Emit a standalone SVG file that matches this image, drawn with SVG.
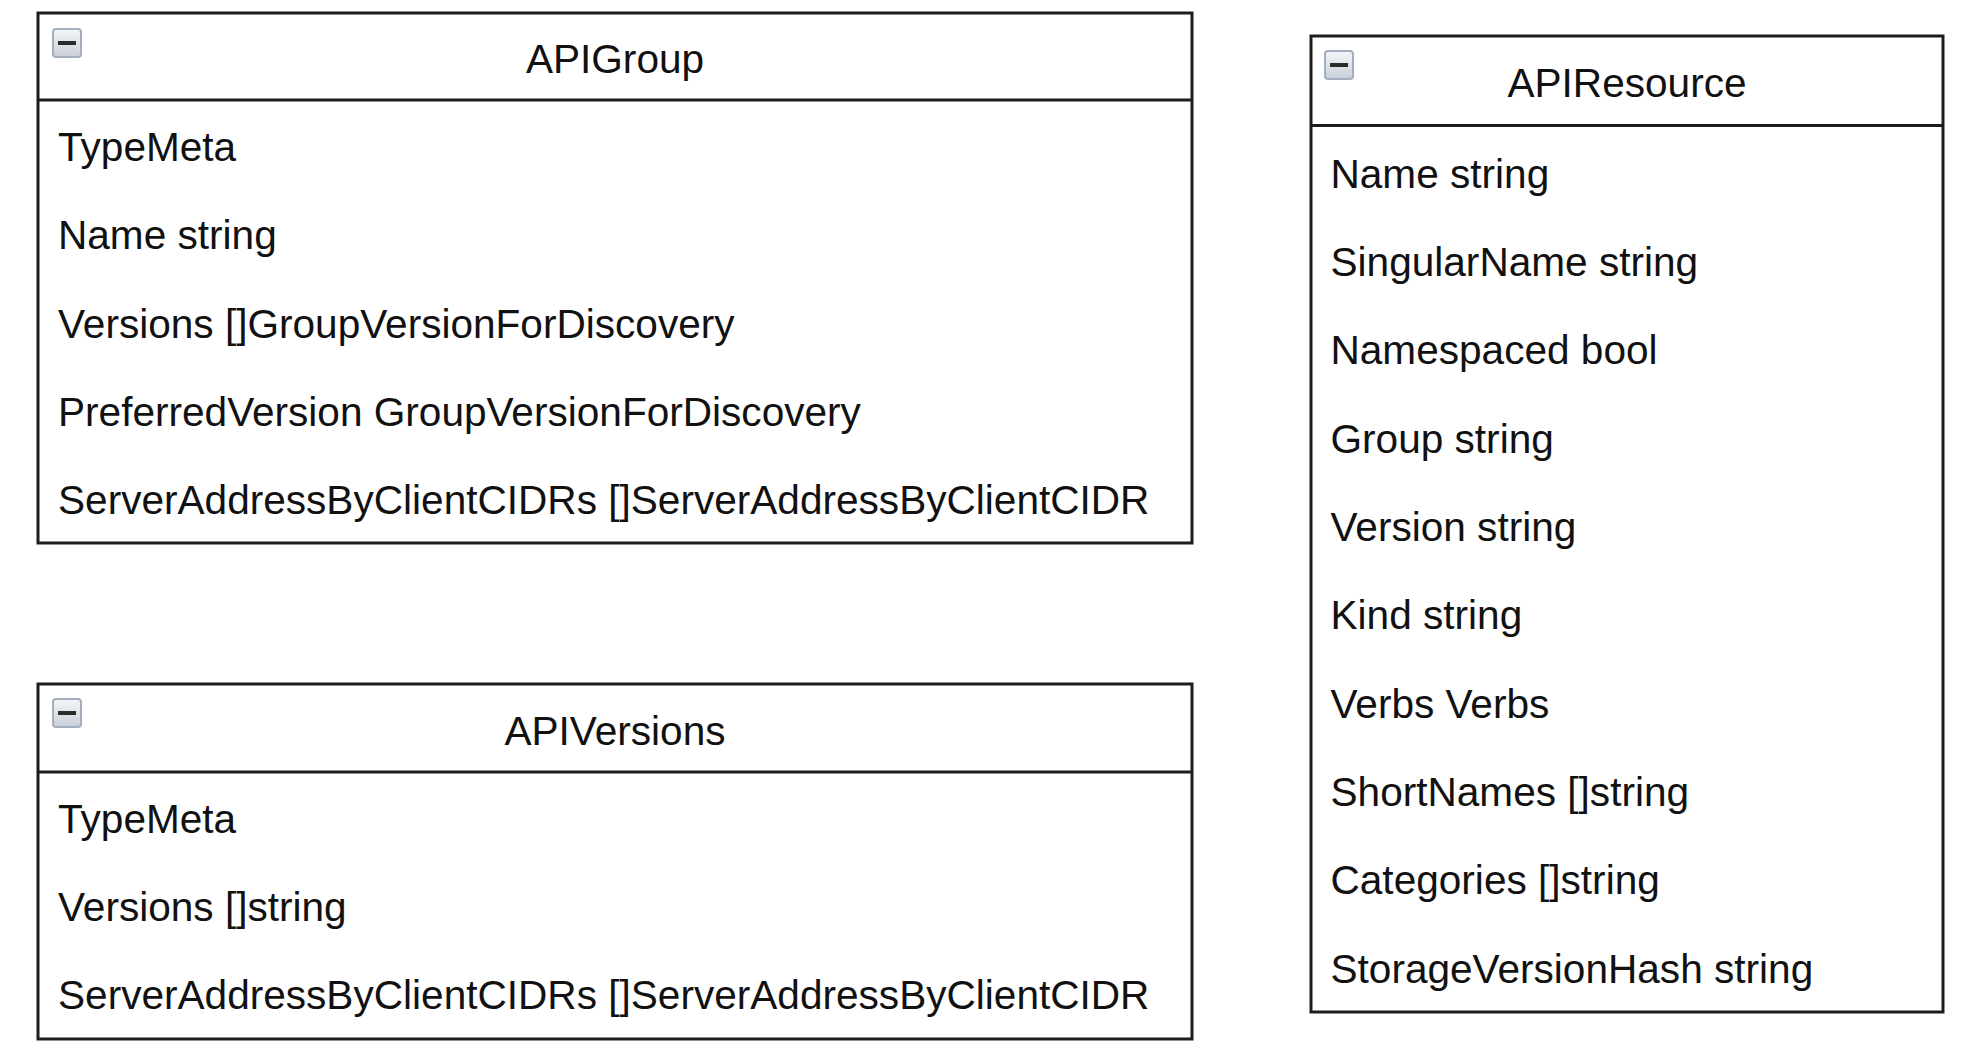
<svg xmlns="http://www.w3.org/2000/svg" width="1978" height="1052" viewBox="0 0 1978 1052">
<defs>
<linearGradient id="ig" x1="0" y1="0" x2="0" y2="1">
<stop offset="0" stop-color="#f4f6f9"/>
<stop offset="1" stop-color="#c9cfd8"/>
</linearGradient>
<symbol id="collapse" viewBox="0 0 30 30">
<rect x="1" y="1" width="28" height="28" rx="3" fill="url(#ig)" stroke="#a3aebe" stroke-width="2"/>
<rect x="6" y="13" width="18" height="4" fill="#2b2b2b"/>
</symbol>
</defs>
<style>
.box{fill:#ffffff;stroke:#1c1c1c;stroke-width:3}
.div{stroke:#1c1c1c;stroke-width:3}
.t{font-family:"Liberation Sans",Arial,sans-serif;font-size:40.6px;fill:#111111}
.c{text-anchor:middle}
</style>
<rect width="1978" height="1052" fill="#ffffff"/>
<g id="connectors"/>
<g id="APIGroup">
<rect class="box" x="38" y="13" width="1154" height="530"/>
<line class="div" x1="38" y1="100" x2="1192" y2="100"/>
<use href="#collapse" x="52" y="28" width="30" height="30"/>
<text class="t c" x="615" y="73">APIGroup</text>
<text class="t" x="58" y="161">TypeMeta</text>
<text class="t" x="58" y="249.3">Name string</text>
<text class="t" x="58" y="337.7">Versions []GroupVersionForDiscovery</text>
<text class="t" x="58" y="426">PreferredVersion GroupVersionForDiscovery</text>
<text class="t" x="58" y="514.3">ServerAddressByClientCIDRs []ServerAddressByClientCIDR</text>
</g>
<g id="APIVersions">
<rect class="box" x="38" y="684" width="1154" height="355"/>
<line class="div" x1="38" y1="772" x2="1192" y2="772"/>
<use href="#collapse" x="52" y="698" width="30" height="30"/>
<text class="t c" x="615" y="745">APIVersions</text>
<text class="t" x="58" y="832.7">TypeMeta</text>
<text class="t" x="58" y="921">Versions []string</text>
<text class="t" x="58" y="1009.3">ServerAddressByClientCIDRs []ServerAddressByClientCIDR</text>
</g>
<g id="APIResource">
<rect class="box" x="1311" y="36" width="632" height="976"/>
<line class="div" x1="1311" y1="125.5" x2="1943" y2="125.5"/>
<use href="#collapse" x="1324" y="50" width="30" height="30"/>
<text class="t c" x="1627" y="96.7">APIResource</text>
<text class="t" x="1330.5" y="187.7">Name string</text>
<text class="t" x="1330.5" y="276">SingularName string</text>
<text class="t" x="1330.5" y="364.4">Namespaced bool</text>
<text class="t" x="1330.5" y="452.7">Group string</text>
<text class="t" x="1330.5" y="541">Version string</text>
<text class="t" x="1330.5" y="629.4">Kind string</text>
<text class="t" x="1330.5" y="717.7">Verbs Verbs</text>
<text class="t" x="1330.5" y="806">ShortNames []string</text>
<text class="t" x="1330.5" y="894.4">Categories []string</text>
<text class="t" x="1330.5" y="982.7">StorageVersionHash string</text>
</g>
</svg>
